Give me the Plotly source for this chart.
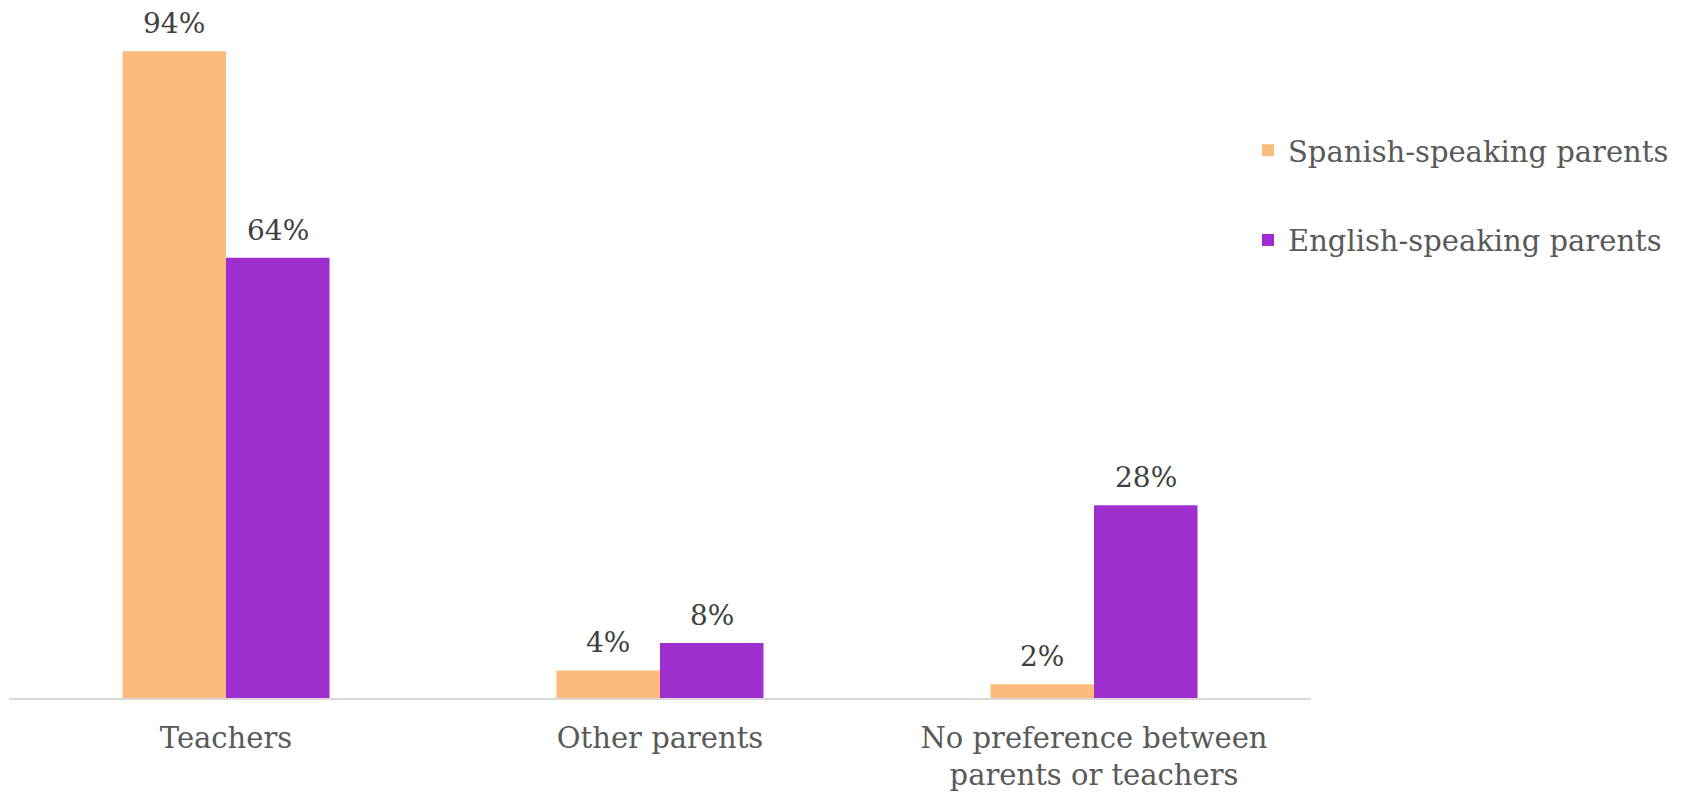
import plotly.graph_objects as go

categories = ["Teachers", "Other parents", "No preference between<br>parents or teachers"]
spanish = [94, 4, 2]
english = [64, 8, 28]
series_names = ["Spanish-speaking parents", "English-speaking parents"]
colors = ["#FABB7B", "#9E2ECE"]

FONT = "DejaVu Serif"
BARGAP = 0.523

fig = go.Figure()
for i, (name, vals, col) in enumerate(zip(series_names, [spanish, english], colors)):
    fig.add_trace(go.Bar(
        x=categories, y=vals, name=name, marker_color=col,
        marker_line_width=0, legendgroup=f"g{i}", hoverinfo="skip",
    ))

# data labels
half = (1 - BARGAP) / 4
for i, vals in enumerate([spanish, english]):
    off = -half if i == 0 else half
    for j, v in enumerate(vals):
        fig.add_annotation(
            x=j + off, y=v, xref="x", yref="y", text=f"{v}%",
            showarrow=False, yanchor="bottom", yshift=9,
            font=dict(family=FONT, size=28, color="#404040"),
        )

fig.update_layout(
    width=1683, height=793,
    margin=dict(l=9, r=372, t=10, b=95, autoexpand=False),
    paper_bgcolor="white", plot_bgcolor="white",
    barmode="group", bargap=BARGAP, bargroupgap=0,
    font=dict(family=FONT, size=29, color="#595959"),
    showlegend=True,
    legend=dict(
        x=0.9516, y=0.833, xanchor="left", yanchor="top",
        traceorder="grouped", tracegroupgap=49,
        font=dict(family=FONT, size=29, color="#595959"),
        bgcolor="rgba(0,0,0,0)",
    ),
    xaxis=dict(
        automargin=False,
        showline=True, linecolor="#D9D9D9", linewidth=1.5,
        ticks="outside", ticklen=13, tickcolor="rgba(0,0,0,0)",
        tickfont=dict(family=FONT, size=29, color="#595959"),
        showgrid=False,
    ),
    yaxis=dict(automargin=False, range=[0, 100], visible=False, showgrid=False, zeroline=False),
)

fig.write_html(
    "out.html",
    config={"displayModeBar": False},
    post_script="document.body.style.margin='0';document.body.style.overflow='hidden';",
)
